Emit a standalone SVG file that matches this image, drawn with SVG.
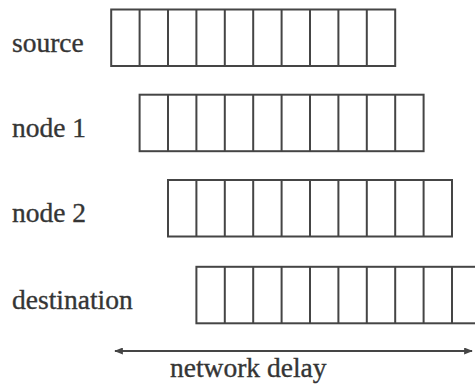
<svg xmlns="http://www.w3.org/2000/svg" xmlns:xlink="http://www.w3.org/1999/xlink" width="475" height="385" viewBox="0 0 475 385">
  <style>
    text { font-family: 'Liberation Serif', 'DejaVu Serif', serif; font-size: 27.5px; fill: #353535; stroke: #353535; stroke-width: 0.35; }
    .cells { fill: none; stroke: #454545; stroke-width: 2; }
    .conn { stroke: #454545; stroke-width: 2; fill: none; }
  </style>
  <defs>
    <!-- one row of ten packet cells, 28.4 wide, 56.5 high -->
    <g id="packetRow">
      <rect class="cells" x="0" y="0" width="284" height="56.5"/>
      <path class="cells" d="M28.4 0V56.5M56.8 0V56.5M85.2 0V56.5M113.6 0V56.5M142 0V56.5M170.4 0V56.5M198.8 0V56.5M227.2 0V56.5M255.6 0V56.5"/>
    </g>
    <marker id="arrowHead" viewBox="0 0 10 8" refX="9" refY="4" markerWidth="5" markerHeight="3.5" orient="auto-start-reverse" markerUnits="strokeWidth">
      <path d="M0 0L10 4L0 8Z" fill="#454545"/>
    </marker>
  </defs>

  <g id="source">
    <text x="12" y="52" font-family="Liberation Serif, serif">source</text>
    <use xlink:href="#packetRow" x="111.2" y="9.5"/>
  </g>

  <g id="node1">
    <text x="12" y="137" font-family="Liberation Serif, serif">node 1</text>
    <use xlink:href="#packetRow" x="139.6" y="94.7"/>
  </g>

  <g id="node2">
    <text x="12" y="222" font-family="Liberation Serif, serif">node 2</text>
    <use xlink:href="#packetRow" x="168" y="180"/>
  </g>

  <g id="destination">
    <text x="12" y="309" font-family="Liberation Serif, serif">destination</text>
    <use xlink:href="#packetRow" x="196.4" y="266.8"/>
  </g>

  <g id="connectors">
    <line class="conn" x1="115" y1="351" x2="472" y2="351" marker-start="url(#arrowHead)" marker-end="url(#arrowHead)"/>
    <text x="170" y="377" font-family="Liberation Serif, serif">network delay</text>
  </g>
</svg>
